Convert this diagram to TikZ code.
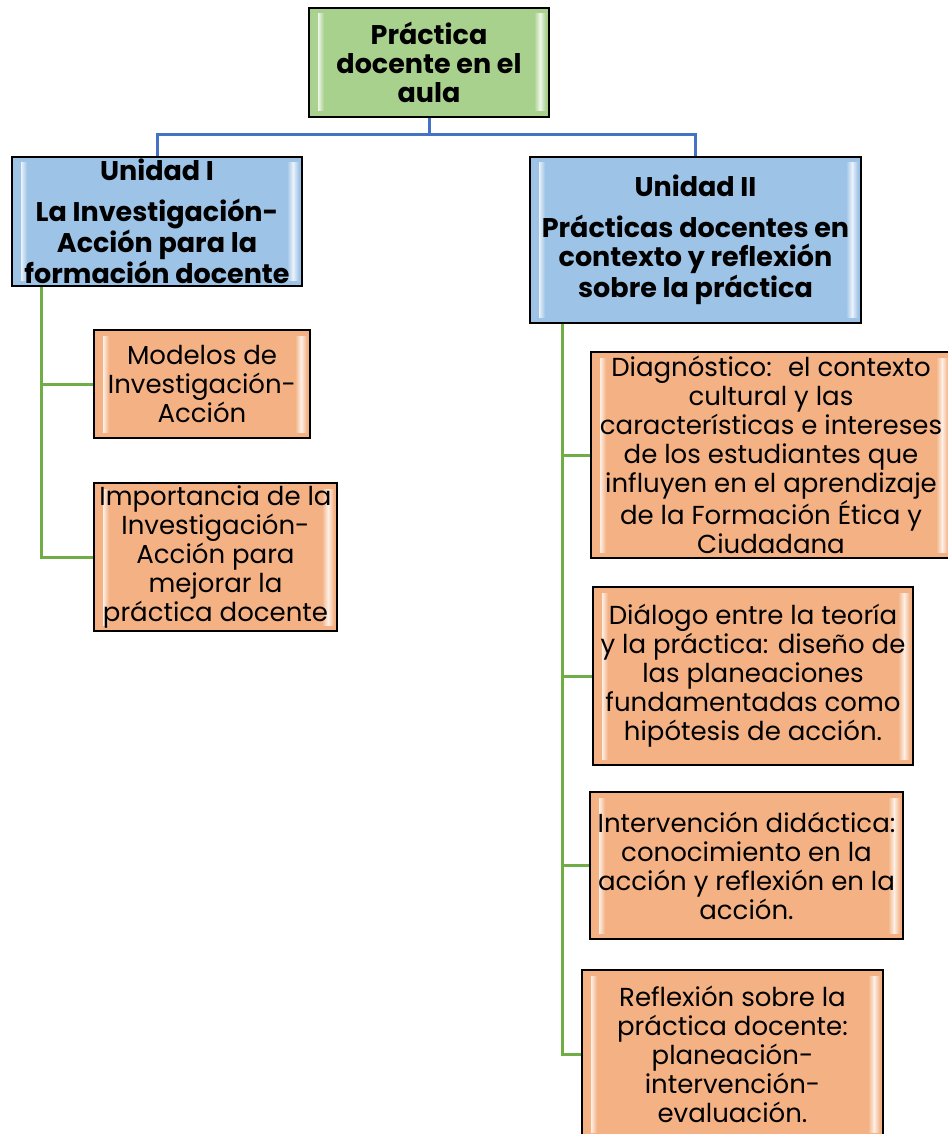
\documentclass[tikz,border=0pt]{standalone}
\usepackage{fontspec}
\setmainfont{Poppins}
\usetikzlibrary{calc}
\definecolor{rootgreen}{HTML}{A9D18E}
\definecolor{unitblue}{HTML}{9DC3E6}
\definecolor{topicorange}{HTML}{F4B183}
\definecolor{busblue}{HTML}{4472C4}
\definecolor{branchgreen}{HTML}{70AD47}

\begin{document}
\begin{tikzpicture}[x=1pt, y=-1pt,
    bevel/.style={path picture={
        \shade[left color=#1, right color=white!80!#1]
            ([shift={(3pt,-6pt)}]path picture bounding box.north west) rectangle ([shift={(9pt,6pt)}]path picture bounding box.south west);
        \shade[left color=white!80!#1, right color=#1]
            ([shift={(9pt,-6pt)}]path picture bounding box.north west) rectangle ([shift={(15pt,6pt)}]path picture bounding box.south west);
        \shade[left color=#1, right color=white!80!#1]
            ([shift={(-15pt,-6pt)}]path picture bounding box.north east) rectangle ([shift={(-9pt,6pt)}]path picture bounding box.south east);
        \shade[left color=white!80!#1, right color=#1]
            ([shift={(-9pt,-6pt)}]path picture bounding box.north east) rectangle ([shift={(-3pt,6pt)}]path picture bounding box.south east);
    }},
    box/.style={draw=black, line width=2pt, inner sep=0pt, align=center, font=\fontsize{26}{29}\selectfont},
    rootbox/.style={box, fill=rootgreen, bevel=rootgreen, font=\bfseries\fontsize{27}{29}\selectfont},
    unitbox/.style={box, fill=unitblue, bevel=unitblue, font=\bfseries\fontsize{27}{29}\selectfont},
    topicbox/.style={box, fill=topicorange, bevel=topicorange},
    busline/.style={draw=busblue, line width=3pt},
    branchline/.style={draw=branchgreen, line width=3pt}
]
    \useasboundingbox (0,0) rectangle (947,1134);

    \node[rootbox, minimum width=240pt, minimum height=109pt] (root) at (429,62.5)
        {Práctica\\docente en el\\aula};

    \node[unitbox, minimum width=290pt, minimum height=129pt] (unidadI) at (157,221.5)
        {Unidad I\\[12pt]La Investigación-\\Acción para la\\formación docente};
    \node[unitbox, minimum width=331pt, minimum height=166pt] (unidadII) at (695.5,240)
        {Unidad II\\[12pt]Prácticas docentes en\\contexto y reflexión\\sobre la práctica};

    \node[topicbox, minimum width=216pt, minimum height=108pt] (modelos) at (202,384)
        {Modelos de\\Investigación-\\Acción};
    \node[topicbox, minimum width=243pt, minimum height=148pt] (importancia) at (215.5,557)
        {Importancia de la\\Investigación-\\Acción para\\mejorar la\\práctica docente};

    \node[topicbox, minimum width=360pt, minimum height=206pt] (diagnostico) at (771,455)
        {Diagnóstico:~ el contexto\\cultural y las\\características e intereses\\de los estudiantes que\\influyen en el aprendizaje\\de la Formación Ética y\\Ciudadana};
    \node[topicbox, minimum width=320pt, minimum height=178pt] (dialogo) at (753,676)
        {Diálogo entre la teoría\\y la práctica: diseño de\\las planeaciones\\fundamentadas como\\hipótesis de acción.};
    \node[topicbox, minimum width=313pt, minimum height=147pt] (intervencion) at (746.5,865.5)
        {Intervención didáctica:\\conocimiento en la\\acción y reflexión en la\\acción.};
    \node[topicbox, minimum width=301pt, minimum height=168pt] (reflexion) at (732.5,1054)
        {Reflexión sobre la\\práctica docente:\\planeación-\\intervención-\\evaluación.};

    \coordinate (bus) at (429,135);
    \draw[busline] (root) -- (bus);
    \draw[busline] (unidadI) |- (bus) -| (unidadII);

    \draw[branchline] ([xshift=30pt]unidadI.south west) |- (modelos);
    \draw[branchline] ([xshift=30pt]unidadI.south west) |- (importancia);

    \draw[branchline] ([xshift=33pt]unidadII.south west) |- (diagnostico);
    \draw[branchline] ([xshift=33pt]unidadII.south west) |- (dialogo);
    \draw[branchline] ([xshift=33pt]unidadII.south west) |- (intervencion);
    \draw[branchline] ([xshift=33pt]unidadII.south west) |- (reflexion);
\end{tikzpicture}
\end{document}
